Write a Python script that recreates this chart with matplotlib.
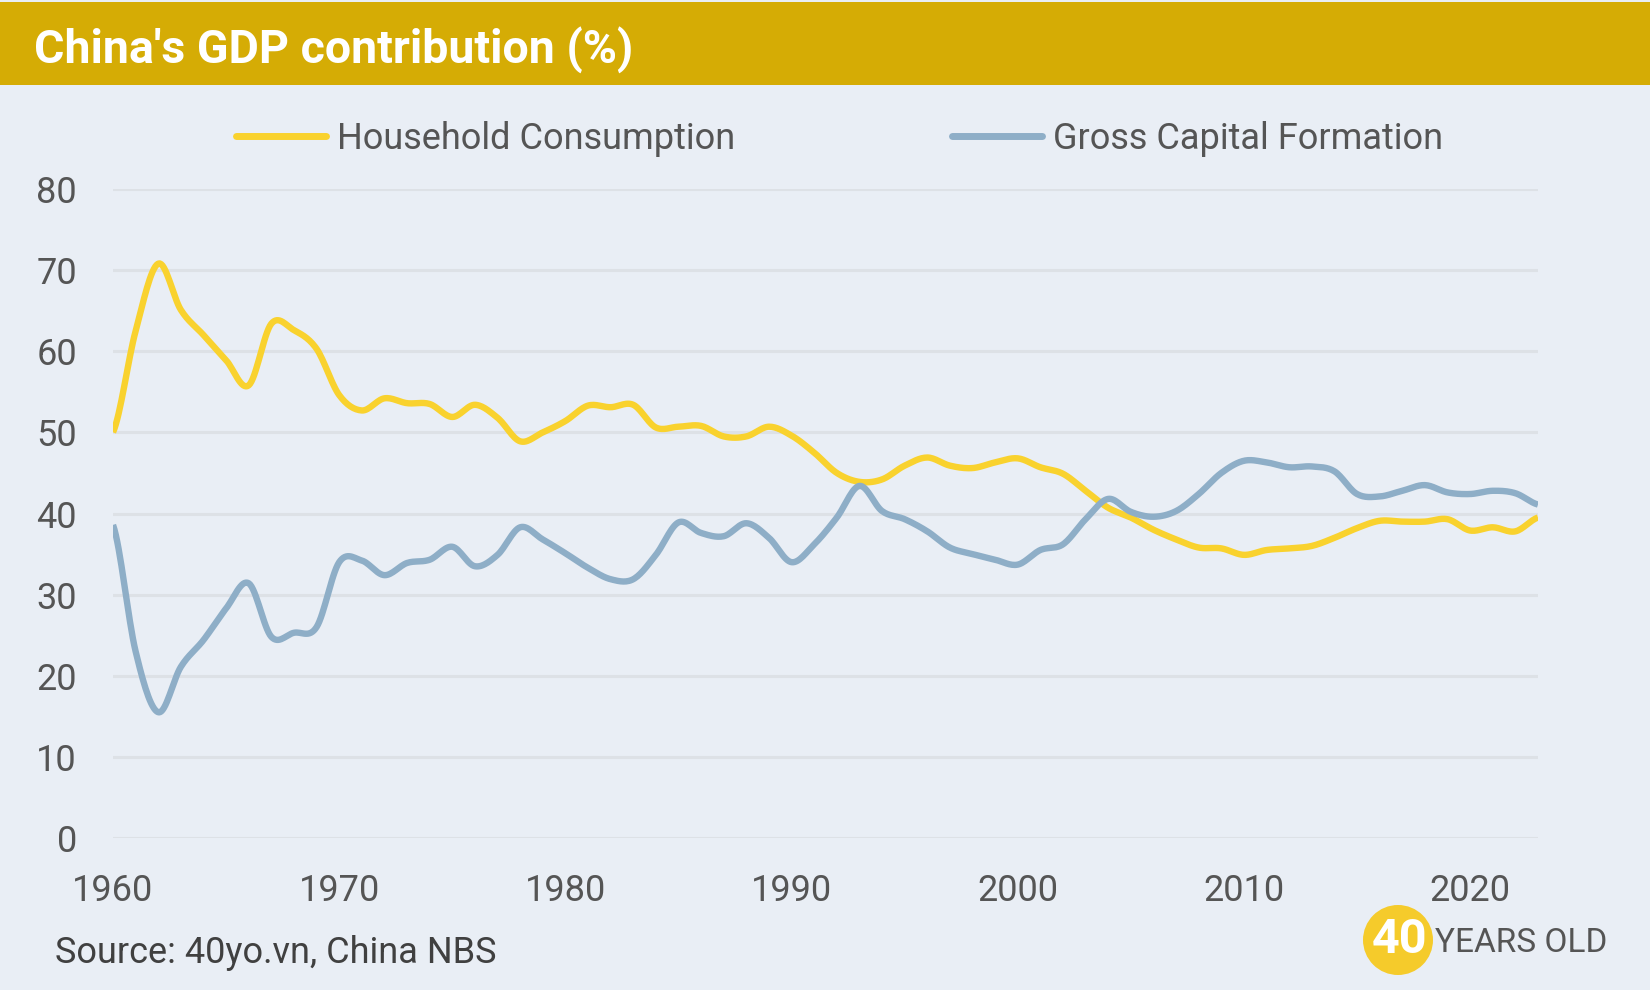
import numpy as np
import matplotlib
matplotlib.use("Agg")
from matplotlib import pyplot as plt
from matplotlib.lines import Line2D
from matplotlib.patches import Ellipse, Rectangle

plt.rcParams['font.family'] = ['Roboto', 'DejaVu Sans']

# data (% of GDP)
years = np.arange(1960, 2024)
household = [
    50.0, 62.5, 70.8, 65.1, 62.0, 58.9, 55.8, 63.4, 62.6, 60.3,
    54.6, 52.7, 54.2, 53.6, 53.5, 51.9, 53.4, 51.8, 48.9, 50.0,
    51.4, 53.3, 53.1, 53.4, 50.6, 50.7, 50.8, 49.5, 49.5, 50.7,
    49.6, 47.5, 45.0, 43.9, 44.2, 45.9, 46.9, 45.9, 45.6, 46.3,
    46.8, 45.7, 44.9, 42.8, 40.7, 39.5, 38.0, 36.8, 35.8, 35.7,
    34.9, 35.5, 35.7, 36.0, 37.0, 38.2, 39.1, 39.0, 39.0, 39.3,
    37.9, 38.3, 37.8, 39.5,
]
capital = [
    38.6, 23.0, 15.5, 21.1, 24.4, 28.3, 31.4, 24.8, 25.3, 26.0,
    34.0, 34.2, 32.4, 33.9, 34.3, 35.9, 33.5, 34.9, 38.3, 36.8,
    35.1, 33.3, 31.9, 31.9, 34.9, 38.9, 37.6, 37.2, 38.8, 37.0,
    34.0, 36.2, 39.5, 43.4, 40.3, 39.3, 37.8, 35.8, 35.0, 34.3,
    33.7, 35.5, 36.2, 39.3, 41.8, 40.2, 39.6, 40.3, 42.4, 45.0,
    46.5, 46.3, 45.7, 45.8, 45.2, 42.4, 42.1, 42.8, 43.5, 42.6,
    42.4, 42.8, 42.5, 41.1,
]
series_names = ['Household Consumption', 'Gross Capital Formation']
series_colors = ['#F9D22E', '#8EAEC7']
xticks = [1960, 1970, 1980, 1990, 2000, 2010, 2020]
yticks = [0, 10, 20, 30, 40, 50, 60, 70, 80]

BG = '#E9EEF5'
GOLD = '#D5AC05'
TXT = '#555555'


def spline(x, y, n=16):
    # catmull-rom curve through the points, like the original's smoothed lines
    x = np.asarray(x, float)
    y = np.asarray(y, float)
    p = np.concatenate([[y[0]], y, [y[-1]]])
    t = np.linspace(0, 1, n, endpoint=False)
    xs, ys = [], []
    for i in range(len(x) - 1):
        p0, p1, p2, p3 = p[i:i + 4]
        yy = 0.5 * (2 * p1 + (-p0 + p2) * t + (2 * p0 - 5 * p1 + 4 * p2 - p3) * t ** 2
                    + (-p0 + 3 * p1 - 3 * p2 + p3) * t ** 3)
        xs.append(x[i] + (x[i + 1] - x[i]) * t)
        ys.append(yy)
    xs.append([x[-1]])
    ys.append([y[-1]])
    return np.concatenate(xs), np.concatenate(ys)


fig = plt.figure(figsize=(16.5, 9.9), dpi=100, facecolor=BG)

# title bar
fig.patches.append(Rectangle((0, 1 - 85 / 990), 1, 83 / 990, transform=fig.transFigure,
                             facecolor=GOLD, edgecolor='none', zorder=0))
fig.text(34 / 1650, 1 - 50 / 990, "China's GDP contribution (%)", color='white',
         fontsize=33.5, fontweight='bold', va='center', ha='left')

ax = fig.add_axes([113 / 1650, 1 - 838 / 990, (1538 - 113) / 1650, (838 - 189) / 990])
ax.set_facecolor(BG)

for vals, col in zip([household, capital], series_colors):
    sx, sy = spline(years, vals)
    ax.plot(sx, sy, color=col, lw=4.6, solid_capstyle='butt', solid_joinstyle='round', zorder=3)

ax.set_xlim(1960, 2023)
ax.set_ylim(0, 80)
ax.set_xticks(xticks)
ax.set_yticks(yticks)
ax.tick_params(axis='both', length=0, labelsize=26, labelcolor=TXT)
ax.tick_params(axis='y', pad=26)
ax.tick_params(axis='x', pad=25)
for s in ax.spines.values():
    s.set_visible(False)
ax.yaxis.grid(True, color='#DDE1E6', lw=2.2, zorder=0)
ax.xaxis.grid(False)
ax.set_axisbelow(True)

handles = [Line2D([0], [0], color=c, lw=5, solid_capstyle='round') for c in series_colors]
fig.legend(handles, series_names, loc='center left', bbox_to_anchor=(236 / 1650, 1 - 139 / 990),
           ncol=2, frameon=False, fontsize=26, labelcolor=TXT, handlelength=2.5,
           handletextpad=0.3, columnspacing=6.0, borderpad=0, borderaxespad=0)

fig.text(55 / 1650, 1 - 953 / 990, 'Source: 40yo.vn, China NBS', color='#404040',
         fontsize=26, va='center', ha='left')

# logo
fig.patches.append(Ellipse((1398 / 1650, 1 - 940 / 990), 70 / 1650, 70 / 990,
                           transform=fig.transFigure, facecolor='#F5CB2B', edgecolor='none'))
fig.text(1400 / 1650, 1 - 940 / 990, '40', color='white', fontsize=35, fontweight='bold',
         va='center', ha='center')
fig.text(1435 / 1650, 1 - 943 / 990, 'YEARS OLD', color=TXT, fontsize=24,
         va='center', ha='left')

fig.savefig('out.png', dpi=100, facecolor=BG)
